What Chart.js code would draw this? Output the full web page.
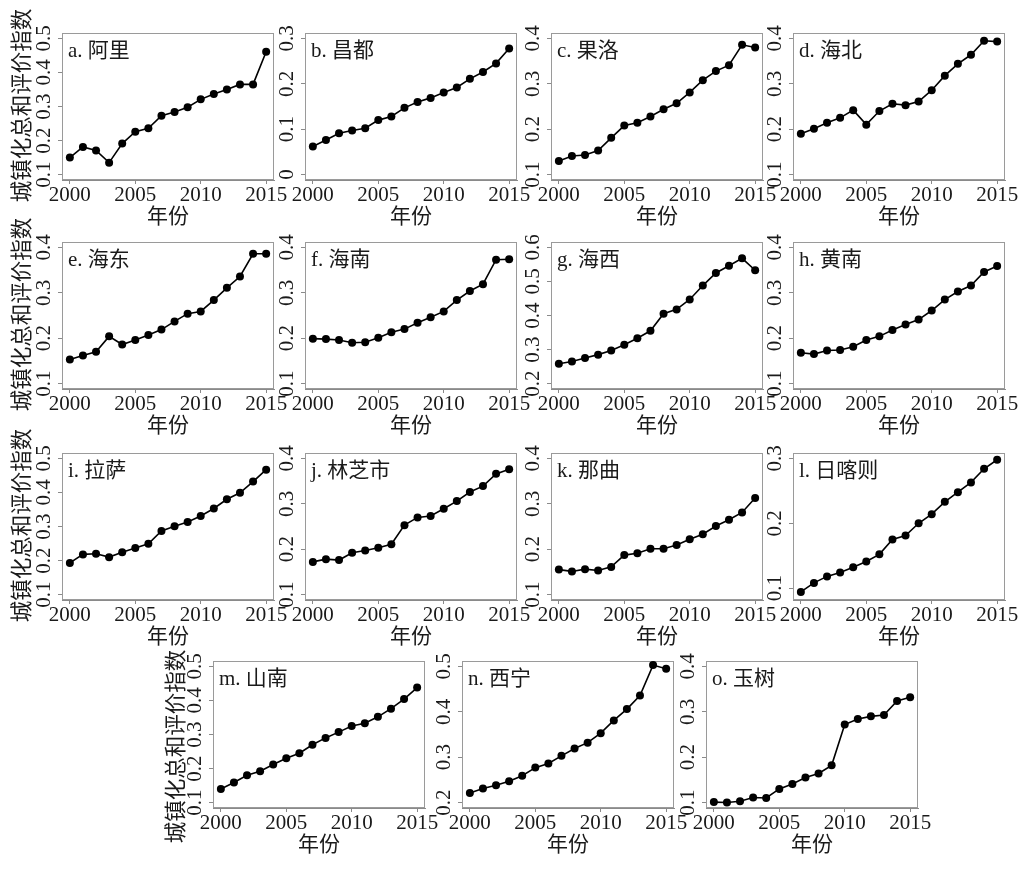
<!DOCTYPE html>
<html>
<head>
<meta charset="utf-8">
<script src="https://cdn.jsdelivr.net/npm/chart.js@4.4.1/dist/chart.umd.min.js"></script>
<style>
html, body { margin: 0; padding: 0; background: #ffffff; }
#wrap { position: relative; width: 1031px; height: 870px; overflow: hidden; background: #ffffff; }
#wrap canvas { position: absolute; }
</style>
</head>
<body>
<div id="wrap"></div>
<script>
// ---------------- data ----------------
const years = [2000, 2001, 2002, 2003, 2004, 2005, 2006, 2007, 2008, 2009, 2010, 2011, 2012, 2013, 2014, 2015];
const xTickYears = [2000, 2005, 2010, 2015];
const xAxisTitle = '年份';
const yAxisTitle = '城镇化总和评价指数';
const panelTitles = ['a. 阿里', 'b. 昌都', 'c. 果洛', 'd. 海北', 'e. 海东', 'f. 海南', 'g. 海西', 'h. 黄南',
                     'i. 拉萨', 'j. 林芝市', 'k. 那曲', 'l. 日喀则', 'm. 山南', 'n. 西宁', 'o. 玉树'];

const ali      = [0.150, 0.181, 0.171, 0.135, 0.191, 0.226, 0.236, 0.273, 0.284, 0.298, 0.321, 0.337, 0.350, 0.365, 0.365, 0.461];
const changdu  = [0.062, 0.076, 0.091, 0.097, 0.102, 0.120, 0.128, 0.147, 0.160, 0.169, 0.181, 0.192, 0.211, 0.226, 0.245, 0.278];
const guoluo   = [0.130, 0.141, 0.143, 0.153, 0.181, 0.208, 0.214, 0.228, 0.244, 0.257, 0.281, 0.308, 0.328, 0.341, 0.386, 0.380];
const haibei   = [0.190, 0.201, 0.214, 0.225, 0.242, 0.210, 0.240, 0.256, 0.253, 0.261, 0.286, 0.318, 0.344, 0.364, 0.395, 0.393];
const haidong  = [0.153, 0.162, 0.170, 0.204, 0.186, 0.196, 0.207, 0.219, 0.237, 0.254, 0.259, 0.284, 0.311, 0.336, 0.386, 0.386];
const hainan   = [0.199, 0.198, 0.196, 0.190, 0.191, 0.201, 0.213, 0.220, 0.234, 0.246, 0.259, 0.284, 0.304, 0.319, 0.373, 0.374];
const haixi    = [0.258, 0.265, 0.275, 0.285, 0.297, 0.314, 0.333, 0.355, 0.405, 0.418, 0.447, 0.488, 0.525, 0.546, 0.568, 0.533];
const huangnan = [0.168, 0.165, 0.173, 0.174, 0.181, 0.196, 0.204, 0.218, 0.230, 0.241, 0.261, 0.285, 0.303, 0.316, 0.346, 0.359];
const lasa     = [0.193, 0.218, 0.220, 0.210, 0.224, 0.237, 0.249, 0.287, 0.301, 0.313, 0.331, 0.353, 0.380, 0.399, 0.432, 0.467];
const linzhi   = [0.172, 0.178, 0.176, 0.192, 0.197, 0.203, 0.211, 0.253, 0.270, 0.273, 0.289, 0.306, 0.326, 0.339, 0.366, 0.376];
const naqu     = [0.155, 0.151, 0.156, 0.153, 0.161, 0.187, 0.191, 0.201, 0.201, 0.209, 0.222, 0.233, 0.251, 0.265, 0.281, 0.313];
const rikaze   = [0.094, 0.108, 0.118, 0.124, 0.132, 0.141, 0.152, 0.175, 0.181, 0.200, 0.214, 0.233, 0.248, 0.263, 0.284, 0.298];
const shannan  = [0.140, 0.159, 0.180, 0.192, 0.212, 0.230, 0.245, 0.270, 0.290, 0.307, 0.325, 0.333, 0.352, 0.376, 0.404, 0.438];
const xining   = [0.221, 0.231, 0.238, 0.247, 0.259, 0.277, 0.286, 0.303, 0.319, 0.332, 0.353, 0.381, 0.406, 0.436, 0.503, 0.495];
const yushu    = [0.101, 0.100, 0.103, 0.111, 0.110, 0.130, 0.141, 0.155, 0.164, 0.182, 0.272, 0.284, 0.290, 0.293, 0.324, 0.332];

const seriesList = [ali, changdu, guoluo, haibei, haidong, hainan, haixi, huangnan,
                    lasa, linzhi, naqu, rikaze, shannan, xining, yushu];

// y-axis limits of each panel (before the 4% axis extension)
const yLimits = [[0.1, 0.5], [0.0, 0.3], [0.1, 0.4], [0.1, 0.4], [0.1, 0.4], [0.1, 0.4], [0.2, 0.6], [0.1, 0.4],
                 [0.1, 0.5], [0.1, 0.4], [0.1, 0.4], [0.09, 0.3], [0.1, 0.5], [0.2, 0.5], [0.1, 0.4]];

// ---------------- layout ----------------
const BOX_W = 212, BOX_H = 147;
const colLefts = [62, 305, 551, 793];
const rowTops = [33, 242, 453, 661];
const lastRowLefts = [213, 462, 706];
const M_LEFT = 62, M_TOP = 33, M_RIGHT = 32, M_BOTTOM = 58;

const FAMILY = '"Liberation Serif", "Times New Roman", "Noto Sans CJK SC", serif';
const TEXT = '#1a1a1a';
const AXIS = '#8a8a8a';

const boxPlugin = {
  id: 'panelBox',
  beforeDatasetsDraw(chart) {
    const a = chart.chartArea, ctx = chart.ctx;
    ctx.save();
    ctx.strokeStyle = '#9a9a9a';
    ctx.lineWidth = 1;
    ctx.strokeRect(Math.round(a.left) + 0.5, Math.round(a.top) + 0.5,
                   Math.round(a.right - a.left) - 1, Math.round(a.bottom - a.top) - 1);
    ctx.restore();
  },
  afterDraw(chart, args, opts) {
    const a = chart.chartArea, ctx = chart.ctx;
    ctx.save();
    ctx.fillStyle = TEXT;
    ctx.font = '21px ' + FAMILY;
    ctx.textBaseline = 'middle';
    ctx.textAlign = 'left';
    ctx.fillText(opts.text, a.left + 6, a.top + 18);
    if (opts.yTitle) {
      ctx.font = '21.5px ' + FAMILY;
      ctx.textAlign = 'center';
      ctx.translate(opts.yTitle.x, (a.top + a.bottom) / 2 + opts.yTitle.dy);
      ctx.rotate(-Math.PI / 2);
      ctx.fillText(yAxisTitle, 0, 0);
    }
    ctx.restore();
  }
};

function makePanel(i, left, top, yTitle) {
  const wrap = document.getElementById('wrap');
  const canvas = document.createElement('canvas');
  const cw = BOX_W + M_LEFT + M_RIGHT, ch = BOX_H + M_TOP + M_BOTTOM + 40;
  canvas.width = cw; canvas.height = ch;
  canvas.style.left = (left - M_LEFT) + 'px';
  canvas.style.top = (top - M_TOP) + 'px';
  canvas.style.width = cw + 'px';
  canvas.style.height = ch + 'px';
  wrap.appendChild(canvas);

  const lim = yLimits[i];
  const ext = (lim[1] - lim[0]) * 0.04;
  const xExt = (years[years.length - 1] - years[0]) * 0.04;
  const yTickVals = [];
  for (let k = Math.ceil(lim[0] * 10 - 1e-9); k <= Math.floor(lim[1] * 10 + 1e-9); k++) yTickVals.push(k / 10);

  new Chart(canvas, {
    type: 'line',
    data: {
      datasets: [{
        data: years.map((yr, k) => ({ x: yr, y: seriesList[i][k] })),
        borderColor: '#000000',
        borderWidth: 1.6,
        pointRadius: 4,
        pointBackgroundColor: '#000000',
        pointBorderColor: '#000000',
        pointBorderWidth: 0,
        tension: 0,
        fill: false,
        clip: false
      }]
    },
    options: {
      responsive: false,
      animation: false,
      events: [],
      devicePixelRatio: 1,
      layout: { padding: { left: 0, top: M_TOP, right: M_RIGHT, bottom: 40 } },
      plugins: {
        legend: { display: false },
        tooltip: { enabled: false },
        title: { display: false },
        panelBox: { text: panelTitles[i], yTitle: yTitle }
      },
      scales: {
        x: {
          type: 'linear',
          min: years[0] - xExt,
          max: years[years.length - 1] + xExt,
          afterBuildTicks: s => { s.ticks = xTickYears.map(v => ({ value: v })); },
          afterFit: s => { s.height = M_BOTTOM; },
          grid: { display: true, drawOnChartArea: false, drawTicks: true, tickLength: 4, tickColor: AXIS, color: AXIS },
          border: { display: true, color: AXIS, width: 1 },
          ticks: { autoSkip: false, maxRotation: 0, minRotation: 0, padding: 1, color: TEXT,
                   font: { family: FAMILY, size: 21, lineHeight: 1 }, callback: v => String(v) },
          title: { display: true, text: xAxisTitle, color: TEXT,
                   font: { family: FAMILY, size: 21, lineHeight: 1.2 }, padding: { top: 0, bottom: 8 } }
        },
        y: {
          type: 'linear',
          min: lim[0] - ext,
          max: lim[1] + ext,
          afterBuildTicks: s => { s.ticks = yTickVals.map(v => ({ value: v })); },
          afterFit: s => { s.width = M_LEFT; },
          grid: { display: true, drawOnChartArea: false, drawTicks: true, tickLength: 4, tickColor: AXIS, color: AXIS },
          border: { display: true, color: AXIS, width: 1 },
          ticks: { autoSkip: false, minRotation: 90, maxRotation: 90, crossAlign: 'center', padding: 0, color: TEXT,
                   font: { family: FAMILY, size: 21, lineHeight: 1 },
                   callback: v => String(Math.round(v * 10) / 10) },
          title: { display: false }
        }
      }
    },
    plugins: [boxPlugin]
  });
}

for (let r = 0; r < 3; r++) {
  for (let c = 0; c < 4; c++) {
    const idx = r * 4 + c;
    makePanel(idx, colLefts[c], rowTops[r], c === 0 ? { x: 23, dy: -1 } : null);
  }
}
for (let c = 0; c < 3; c++) {
  makePanel(12 + c, lastRowLefts[c], rowTops[3], c === 0 ? { x: 26, dy: 12 } : null);
}
</script>
</body>
</html>
